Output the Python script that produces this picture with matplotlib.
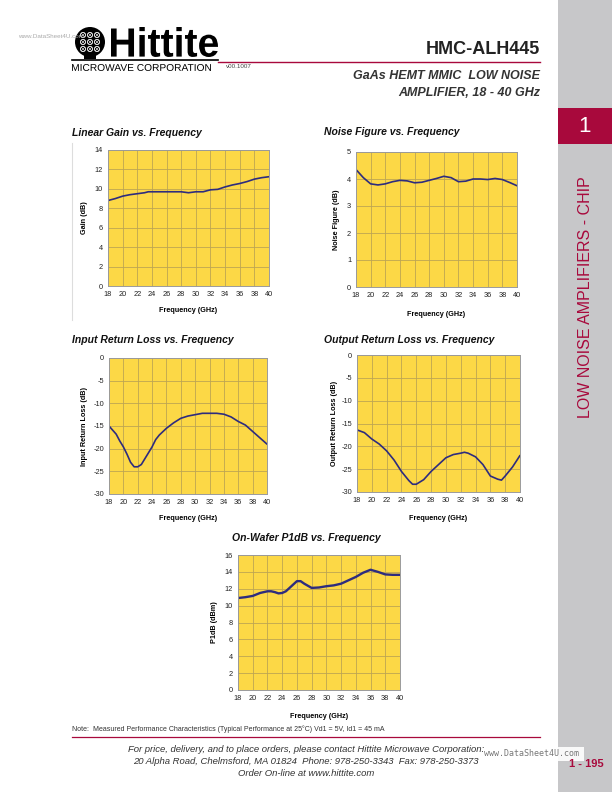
import matplotlib
matplotlib.use("Agg")
import matplotlib.pyplot as plt
import matplotlib.transforms as mtransforms
from matplotlib.font_manager import FontProperties
from matplotlib.patches import Circle, PathPatch, Rectangle
from matplotlib.textpath import TextPath

plt.rcParams["font.family"] = ["Liberation Sans", "DejaVu Sans"]
plt.rcParams["axes.unicode_minus"] = False

W, H = 612, 792
RED = "#A8093C"
YELLOW = "#FCD846"
GRIDC = "#BDA552"
LINEC = "#2E2C7E"

freq_ticks = [18, 20, 22, 24, 26, 28, 30, 32, 34, 36, 38, 40]

# Linear gain (dB)
gain_f = [18, 19, 20, 21, 22, 23, 23.5, 24, 26, 28, 29, 29.5, 30, 31, 32, 33, 34, 35, 36, 37, 38, 39, 40]
gain_db = [8.8, 9.0, 9.25, 9.4, 9.5, 9.6, 9.7, 9.7, 9.7, 9.7, 9.6, 9.65, 9.7, 9.7, 9.9, 9.95, 10.2,
           10.4, 10.55, 10.75, 11.0, 11.15, 11.25]

# Noise figure (dB)
nf_f = [18, 19, 20, 21, 22, 23, 24, 25, 26, 27, 28, 29, 30, 31, 32, 33, 34, 35, 36, 37, 38, 39, 40]
nf_db = [4.35, 4.05, 3.82, 3.78, 3.82, 3.9, 3.95, 3.93, 3.86, 3.88, 3.95, 4.02, 4.1, 4.05, 3.9,
         3.92, 4.0, 4.0, 3.98, 4.02, 3.98, 3.87, 3.75]

# Input return loss (dB)
irl_f = [18, 19, 19.5, 20, 20.5, 21, 21.5, 22, 22.5, 23, 24, 24.5, 25, 26, 27, 28, 29, 30, 31, 32,
         33, 34, 35, 36, 37, 38, 39, 40]
irl_db = [-15, -16.8, -18.3, -19.6, -21.2, -23.0, -24.0, -24.0, -23.5, -22.2, -19.6, -18.0, -17.0,
          -15.5, -14.3, -13.3, -12.8, -12.5, -12.2, -12.2, -12.2, -12.4, -13.0, -14.0, -14.8,
          -16.2, -17.6, -19.0]

# Output return loss (dB)
orl_f = [18, 19, 20, 21, 22, 23, 24, 25, 25.5, 26, 27, 28, 29, 30, 31, 32, 32.5, 33, 34, 35, 36,
         37, 37.5, 38, 39, 40]
orl_db = [-16.4, -17.0, -18.4, -19.5, -21.0, -23.0, -25.5, -27.5, -28.3, -28.3, -27.3, -25.5,
          -24.0, -22.5, -21.8, -21.5, -21.3, -21.5, -22.3, -24.0, -26.5, -27.2, -27.4, -26.5,
          -24.5, -22.0]

# On-wafer P1dB (dBm)
p1_f = [18, 19, 20, 21, 22, 22.5, 23, 23.5, 24, 24.5, 25, 26, 26.5, 27, 28, 29, 30, 31, 32, 33,
        34, 35, 36, 37, 38, 39, 40]
p1_dbm = [10.9, 11.0, 11.15, 11.5, 11.7, 11.7, 11.6, 11.45, 11.5, 11.7, 12.1, 12.9, 12.9, 12.6,
          12.1, 12.15, 12.3, 12.4, 12.6, 13.0, 13.4, 13.9, 14.25, 14.0, 13.7, 13.65, 13.65]


def box(l, t, r, b):
    return [l / W, 1 - b / H, (r - l) / W, (b - t) / H]


def fit_text(ax, s, x0, y0, x1, y1, weight="bold"):
    tp = TextPath((0, 0), s, size=10, prop=FontProperties(family="Liberation Sans", weight=weight))
    ext = tp.get_extents()
    tr = (mtransforms.Affine2D().translate(-ext.x0, -ext.y0)
          .scale((x1 - x0) / ext.width, -(y1 - y0) / ext.height).translate(x0, y1))
    ax.add_patch(PathPatch(tr.transform_path(tp), fc="black", ec="none"))


fig = plt.figure(figsize=(W / 100, H / 100), dpi=100)

page = fig.add_axes([0, 0, 1, 1])
page.set_xlim(0, W)
page.set_ylim(H, 0)
page.axis("off")

# side bar
page.add_patch(Rectangle((558, 0), 54, H, fc="#C7C7C9", ec="none"))
page.add_patch(Rectangle((558, 108), 54, 36, fc=RED, ec="none"))
page.text(585, 127, "1", color="white", fontsize=16, ha="center", va="center")
page.text(585, 297, "LOW NOISE AMPLIFIERS - CHIP", color=RED, fontsize=11.5, rotation=90,
          ha="center", va="center")

# logo
page.text(18, 36, "www.DataSheet4U.com", fontsize=4.5, color="#AAAAAA", va="center")
page.add_patch(Circle((90, 42), 15, fc="black", ec="none"))
for cx in (83, 90, 97):
    for cy in (35, 42, 49):
        page.add_patch(Circle((cx, cy), 2.6, fc="none", ec="white", lw=0.6))
        page.plot([cx - 1.8, cx + 1.8], [cy - 1.8, cy + 1.8], color="white", lw=0.4)
        page.plot([cx - 1.8, cx + 1.8], [cy + 1.8, cy - 1.8], color="white", lw=0.4)
page.add_patch(Rectangle((84, 55), 12, 4, fc="black", ec="none"))
fit_text(page, "Hittite", 111, 27, 218, 57)
page.plot([72, 218], [60, 60], color="black", lw=1.2)
fit_text(page, "MICROWAVE CORPORATION", 72, 64, 211, 71, weight="normal")
page.text(226, 67, "v00.1007", fontsize=4.5, color="#444444", va="center")

# header
page.text(540, 50, "HMC-ALH445", fontsize=13, fontweight="bold", ha="right", va="center",
          color="#222222")
page.plot([218, 540], [62, 62], color=RED, lw=1.0)
page.text(540, 76, "GaAs HEMT MMIC  LOW NOISE", fontsize=9, fontweight="bold", style="italic",
          ha="right", va="center", color="#333333")
page.text(540, 93, "AMPLIFIER, 18 - 40 GHz", fontsize=9, fontweight="bold", style="italic",
          ha="right", va="center", color="#333333")

# faint frame line left of first chart
page.plot([72, 72], [143, 320], color="#DDDDDD", lw=0.8)

charts = [
    # title, (title x, y, ha), axes box, ylim, yticks, ylabel, ylabel x, xlabel y, data, lw
    ("Linear Gain vs. Frequency", (72, 133, "left"), (108, 150, 269, 286), (0, 14),
     list(range(0, 15, 2)), "Gain (dB)", 85, 311, (gain_f, gain_db), 1.2),
    ("Noise Figure vs. Frequency", (324, 132, "left"), (356, 152, 517, 287), (0, 5),
     list(range(0, 6)), "Noise Figure (dB)", 337, 314, (nf_f, nf_db), 1.2),
    ("Input Return Loss vs. Frequency", (72, 340, "left"), (109, 358, 267, 494), (-30, 0),
     list(range(-30, 1, 5)), "Input Return Loss (dB)", 84, 519, (irl_f, irl_db), 1.2),
    ("Output Return Loss vs. Frequency", (324, 340, "left"), (357, 355, 520, 492), (-30, 0),
     list(range(-30, 1, 5)), "Output Return Loss (dB)", 335, 518, (orl_f, orl_db), 1.2),
    ("On-Wafer P1dB vs. Frequency", (306, 538, "center"), (238, 555, 400, 690), (0, 16),
     list(range(0, 17, 2)), "P1dB (dBm)", 215, 716, (p1_f, p1_dbm), 1.7),
]

for title, (tx, ty, tha), (l, t, r, b), ylim, yticks, ylabel, ylx, xly, (xs, ys), lw in charts:
    ax = fig.add_axes(box(l, t, r, b))
    ax.set_facecolor(YELLOW)
    ax.plot(xs, ys, color=LINEC, lw=lw, solid_capstyle="round")
    ax.set_xlim(18, 40)
    ax.set_ylim(*ylim)
    ax.set_xticks(freq_ticks)
    ax.set_yticks(yticks)
    ax.grid(True, color=GRIDC, lw=0.6)
    ax.set_axisbelow(True)
    ax.tick_params(length=0, labelsize=5.3, pad=3.5, colors="#222222")
    for sp in ax.spines.values():
        sp.set_color("#9A9A9A")
        sp.set_linewidth(0.7)
    page.text(tx, ty, title, fontsize=7.5, fontweight="bold", style="italic", ha=tha,
              va="center", color="#111111")
    page.text(ylx, (t + b) / 2, ylabel, fontsize=5.2, fontweight="bold", rotation=90,
              ha="center", va="center")
    page.text((l + r) / 2, xly, "Frequency (GHz)", fontsize=5.2, fontweight="bold",
              ha="center", va="center")

# footer
page.text(72, 729, "Note:  Measured Performance Characteristics (Typical Performance at 25\u00b0C) "
          "Vd1 = 5V, Id1 = 45 mA", fontsize=5, va="center", color="#333333")
page.plot([72, 540], [737, 737], color=RED, lw=0.9)
footer = ["For price, delivery, and to place orders, please contact Hittite Microwave Corporation:",
          "20 Alpha Road, Chelmsford, MA 01824  Phone: 978-250-3343  Fax: 978-250-3373",
          "Order On-line at www.hittite.com"]
for i, line in enumerate(footer):
    page.text(306, 750 + i * 12, line, fontsize=6.8, style="italic", ha="center", va="center",
              color="#333333")
page.add_patch(Rectangle((481, 747), 103, 14, fc="white", ec="none", alpha=0.9))
page.text(532, 754, "www.DataSheet4U.com", fontsize=6, ha="center", va="center",
          color="#777777", family="DejaVu Sans Mono")
page.text(586, 764, "1 - 195", fontsize=8, fontweight="bold", ha="center", va="center", color=RED)

fig.savefig("out.png", dpi=100)
